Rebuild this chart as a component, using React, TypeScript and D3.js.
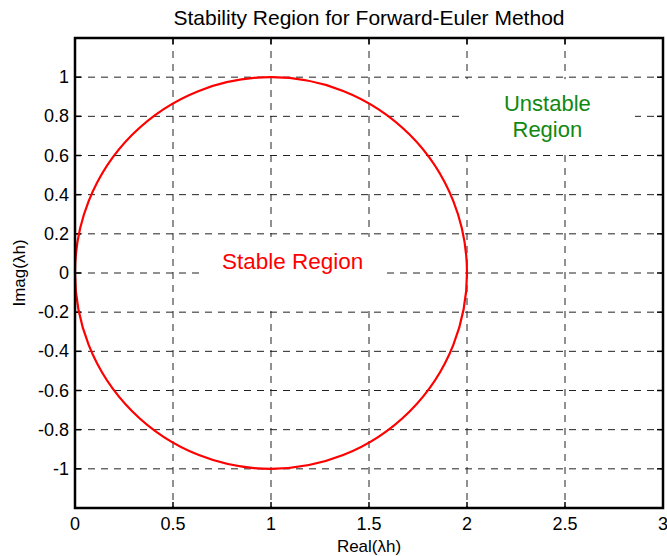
import React from "react";
import * as d3 from "d3";

// axis ticks
const xTicks = [0, 0.5, 1, 1.5, 2, 2.5, 3];
const yTicks = [-1.2, -1, -0.8, -0.6, -0.4, -0.2, 0, 0.2, 0.4, 0.6, 0.8, 1, 1.2];
const yLabelTicks = [-1, -0.8, -0.6, -0.4, -0.2, 0, 0.2, 0.4, 0.6, 0.8, 1];

// |1 + λh| = 1 boundary: circle center and radius
const circleCenter = [1, 0];
const circleRadius = 1;

// annotations (anchor in data units, white text box extents in data units)
const stableLabel = { x: 1.11, y: 0.06, lines: ["Stable Region"], box: [0.663, 1.566, -0.186, 0.184] };
const unstableLabel = { x: 2.41, y: 0.8, lines: ["Unstable", "Region"], box: [1.964, 2.857, 0.608, 0.99] };

const W = 667;
const H = 556;
const margin = { left: 75, right: 4, top: 38, bottom: 48 };
const font = "'Liberation Sans', Arial, sans-serif";

const App = () => {
  const x = d3.scaleLinear().domain([0, 3]).range([margin.left, W - margin.right]);
  const y = d3.scaleLinear().domain([-1.2, 1.2]).range([H - margin.bottom, margin.top]);
  const fmt = (v) => String(Math.round(v * 10) / 10);

  const x0 = x.range()[0], x1 = x.range()[1];
  const y0 = y.range()[1], y1 = y.range()[0];

  const boxRect = (b) => (
    <rect x={x(b[0])} y={y(b[3])} width={x(b[1]) - x(b[0])} height={y(b[2]) - y(b[3])} fill="#fff" />
  );

  return (
    <svg width={W} height={H} style={{ position: "absolute", left: 0, top: 0, background: "#fff" }}>
      <rect x={0} y={0} width={W} height={H} fill="#fff" />
      {/* grid */}
      {xTicks.slice(1, -1).map((t) => (
        <line key={"gx" + t} x1={x(t)} x2={x(t)} y1={y0} y2={y1} stroke="#222" strokeWidth={1} strokeDasharray="7,6" />
      ))}
      {yTicks.slice(1, -1).map((t) => (
        <line key={"gy" + t} x1={x0} x2={x1} y1={y(t)} y2={y(t)} stroke="#222" strokeWidth={1} strokeDasharray="7,6" />
      ))}
      {/* tick marks */}
      {xTicks.map((t) => (
        <g key={"tx" + t}>
          <line x1={x(t)} x2={x(t)} y1={y1} y2={y1 - 6} stroke="#000" strokeWidth={1.5} />
          <line x1={x(t)} x2={x(t)} y1={y0} y2={y0 + 6} stroke="#000" strokeWidth={1.5} />
        </g>
      ))}
      {yTicks.map((t) => (
        <g key={"ty" + t}>
          <line x1={x0} x2={x0 + 6} y1={y(t)} y2={y(t)} stroke="#000" strokeWidth={1.5} />
          <line x1={x1} x2={x1 - 6} y1={y(t)} y2={y(t)} stroke="#000" strokeWidth={1.5} />
        </g>
      ))}
      {/* text backgrounds */}
      {boxRect(stableLabel.box)}
      {boxRect(unstableLabel.box)}
      {/* stability boundary */}
      <ellipse
        cx={x(circleCenter[0])}
        cy={y(circleCenter[1])}
        rx={x(circleRadius) - x(0)}
        ry={y(0) - y(circleRadius)}
        fill="none"
        stroke="#f00"
        strokeWidth={2.2}
      />
      {/* box */}
      <rect x={x0} y={y0} width={x1 - x0} height={y1 - y0} fill="none" stroke="#000" strokeWidth={2.5} />
      {/* tick labels */}
      {xTicks.map((t) => (
        <text key={"lx" + t} x={x(t)} y={y1 + 22} textAnchor="middle" fontFamily={font} fontSize={18}>
          {fmt(t)}
        </text>
      ))}
      {yLabelTicks.map((t) => (
        <text key={"ly" + t} x={x0 - 6} y={y(t) + 6} textAnchor="end" fontFamily={font} fontSize={18}>
          {fmt(t)}
        </text>
      ))}
      {/* labels */}
      <text x={(x0 + x1) / 2} y={25} textAnchor="middle" fontFamily={font} fontSize={21}>
        Stability Region for Forward-Euler Method
      </text>
      <text x={(x0 + x1) / 2} y={H - 4} textAnchor="middle" fontFamily={font} fontSize={17}>
        Real(λh)
      </text>
      <text
        transform={`translate(25,${(y0 + y1) / 2}) rotate(-90)`}
        textAnchor="middle"
        fontFamily={font}
        fontSize={17}
      >
        Imag(λh)
      </text>
      <text x={x(stableLabel.x)} y={y(stableLabel.y) + 8} textAnchor="middle" fontFamily={font} fontSize={22.5} fill="#f00">
        {stableLabel.lines[0]}
      </text>
      {unstableLabel.lines.map((l, i) => (
        <text
          key={l}
          x={x(unstableLabel.x)}
          y={y(unstableLabel.y) - 5 + i * 26}
          textAnchor="middle"
          fontFamily={font}
          fontSize={22}
          fill="#118811"
        >
          {l}
        </text>
      ))}
    </svg>
  );
};

export default App;
